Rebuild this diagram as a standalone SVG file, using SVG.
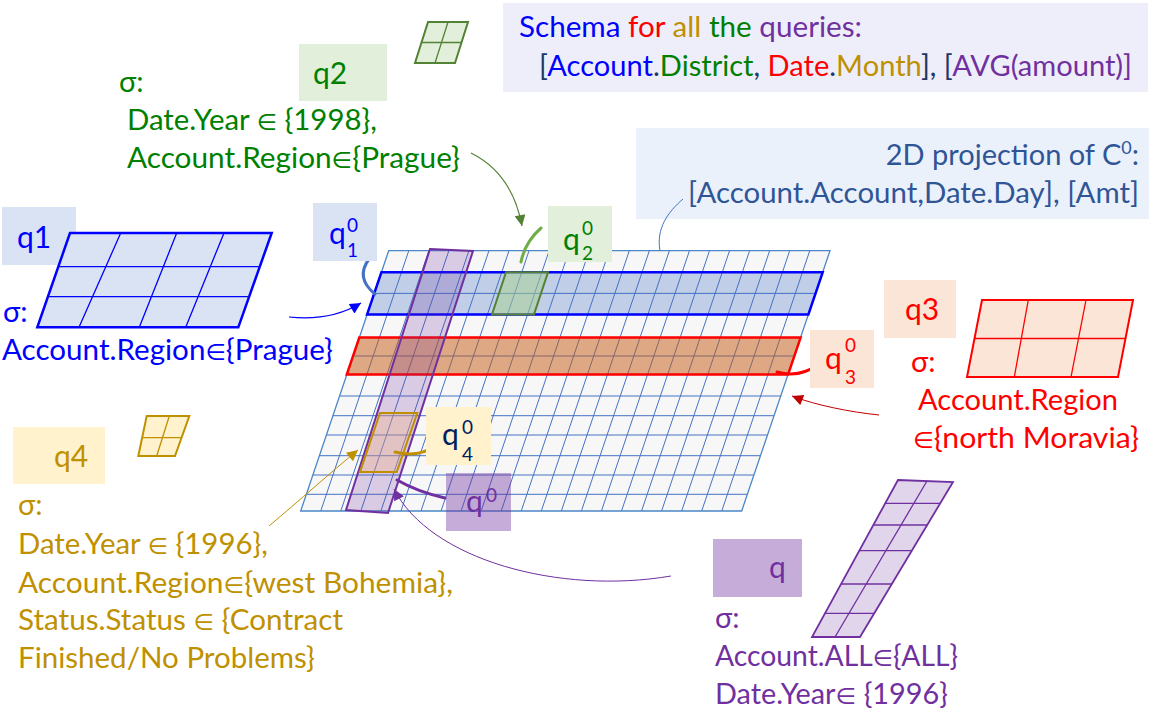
<svg xmlns="http://www.w3.org/2000/svg" width="1161" height="716" viewBox="0 0 1161 716">
<defs>
<style>
text{font-family:Lato,"Open Sans","DejaVu Sans",sans-serif;}
.t{font-size:29px;}
.lbl{font-size:30px;}
.sup{font-size:19px;}
.el{font-size:23px;}
.blue{fill:#0000FF}
.red{fill:#FF0000}
.gold{fill:#BF9000}
.green{fill:#008000}
.purple{fill:#7030A0}
.navy{fill:#203864}
.proj{fill:#2F5597}
.gl{stroke:#4472C4;stroke-width:1;fill:none}
.c{fill:none}
</style>
<marker id="ah-blue" viewBox="0 0 10 10" refX="10" refY="5" markerWidth="13" markerHeight="11" markerUnits="userSpaceOnUse" orient="auto"><path d="M0,0 L10,5 L0,10 z" fill="#0000FF"/></marker>
<marker id="ah-green" viewBox="0 0 10 10" refX="10" refY="5" markerWidth="13" markerHeight="11" markerUnits="userSpaceOnUse" orient="auto"><path d="M0,0 L10,5 L0,10 z" fill="#548235"/></marker>
<marker id="ah-red" viewBox="0 0 10 10" refX="10" refY="5" markerWidth="13" markerHeight="11" markerUnits="userSpaceOnUse" orient="auto"><path d="M0,0 L10,5 L0,10 z" fill="#C00000"/></marker>
<marker id="ah-gold" viewBox="0 0 10 10" refX="10" refY="5" markerWidth="13" markerHeight="11" markerUnits="userSpaceOnUse" orient="auto"><path d="M0,0 L10,5 L0,10 z" fill="#BF9000"/></marker>
<marker id="ah-purple" viewBox="0 0 10 10" refX="10" refY="5" markerWidth="13" markerHeight="11" markerUnits="userSpaceOnUse" orient="auto"><path d="M0,0 L10,5 L0,10 z" fill="#7030A0"/></marker>
</defs>

<!-- Schema box -->
<g id="schema">
<rect x="503" y="3" width="645" height="89" fill="#EEEEFA"/>
<text x="519" y="37" class="t" textLength="343" lengthAdjust="spacingAndGlyphs"><tspan class="blue">Schema</tspan><tspan class="red"> for</tspan><tspan class="gold"> all</tspan><tspan class="green"> the</tspan><tspan class="purple"> queries:</tspan></text>
<text x="539" y="76" class="t" textLength="593" lengthAdjust="spacingAndGlyphs"><tspan class="navy">[</tspan><tspan class="blue">Account</tspan><tspan class="navy">.</tspan><tspan class="green">District</tspan><tspan class="navy">, </tspan><tspan class="red">Date</tspan><tspan class="navy">.</tspan><tspan class="gold">Month</tspan><tspan class="navy">], [</tspan><tspan class="purple">AVG(amount)]</tspan></text>
</g>

<!-- projection box -->
<g id="projection">
<rect x="636" y="128" width="513" height="91" fill="#EBF1FA"/>
<text x="1139" y="165" class="t proj" text-anchor="end">2D projection of C<tspan font-size="18" dy="-11">0</tspan><tspan dy="11">:</tspan></text>
<text x="688" y="203" class="t proj" textLength="451" lengthAdjust="spacingAndGlyphs">[Account.Account,Date.Day], [Amt]</text>
</g>

<!-- main grid -->
<g id="grid">
<path d="M388.7,250.7 L830,250.7 L741.7,511 L300.7,511 Z" fill="#F7F7F7"/>
<path class="gl" d="M381.4,272.3H822.7 M374.2,293.4H815.5 M367.1,314.4H808.4 M359.3,337.6H800.6 M353,356H794.3 M346.8,374.4H788.1 M339.5,396H780.8 M332.8,415.7H774.1 M326.3,435H767.6 M319.3,455.7H760.6 M312.8,475H754.1 M306.2,494.3H747.5
M408.75,250.7L320.75,511 M428.8,250.7L340.8,511 M448.85,250.7L360.85,511 M468.9,250.7L380.9,511 M488.95,250.7L400.95,511 M509,250.7L421,511 M529.05,250.7L441.05,511 M549.1,250.7L461.1,511 M569.15,250.7L481.15,511 M589.2,250.7L501.2,511 M609.25,250.7L521.25,511 M629.3,250.7L541.3,511 M649.35,250.7L561.35,511 M669.4,250.7L581.4,511 M689.45,250.7L601.45,511 M709.5,250.7L621.5,511 M729.55,250.7L641.55,511 M749.6,250.7L661.6,511 M769.65,250.7L681.65,511 M789.7,250.7L701.7,511 M809.75,250.7L721.75,511"/>
<path d="M388.7,250.7 L830,250.7 L741.7,511 L300.7,511 Z" fill="none" stroke="#4A86C8" stroke-width="1.3"/>
</g>

<!-- q1^0 band -->
<g id="q1-band">
<path d="M381.4,272.3 L822.7,272.3 L808.4,314.4 L367.1,314.4 Z" fill="#4472C4" fill-opacity="0.3" stroke="#0000FF" stroke-width="2.5"/>
</g>
<!-- q3^0 band -->
<g id="q3-band">
<path d="M359.3,337.6 L800.6,337.6 L788.1,374.4 L346.8,374.4 Z" fill="#C55A11" fill-opacity="0.5" stroke="#FF0000" stroke-width="2.5"/>
</g>
<!-- q2^0 cell -->
<g id="q2-cell">
<path d="M506,272.3 L548,272.3 L534,314.4 L492,314.4 Z" fill="#A9D18E" fill-opacity="0.5" stroke="#548235" stroke-width="2"/>
</g>
<!-- q^0 band -->
<g id="q0-band">
<path d="M430,249 L473,251 L388,513 L346,510 Z" fill="#7030A0" fill-opacity="0.22" stroke="#7030A0" stroke-width="2"/>
</g>
<!-- q4^0 cell -->
<g id="q4-cell">
<path d="M380,413 L417.3,413 L396.7,472 L360,472 Z" fill="#F4B183" fill-opacity="0.35" stroke="#BF8F00" stroke-width="2"/>
</g>

<!-- connectors -->
<g id="connectors" class="c">
<path d="M289,317 C318,320 343,314 361,303" stroke="#0000FF" stroke-width="1.2" fill="none" marker-end="url(#ah-blue)"/>
<path d="M369,259 Q355,278 375,294" stroke="#4472C4" stroke-width="3" fill="none" stroke-linecap="round"/>
<path d="M471,153 C495,165 515,188 522,226" stroke="#548235" stroke-width="1.2" fill="none" marker-end="url(#ah-green)"/>
<path d="M541,228 Q525,242 521,262" stroke="#70AD47" stroke-width="3" fill="none" stroke-linecap="round"/>
<path d="M683,199 C668,212 656,228 660,251" stroke="#4472C4" stroke-width="1" fill="none"/>
<path d="M817,365 Q800,378 777,372" stroke="#FF0000" stroke-width="3" fill="none" stroke-linecap="round"/>
<path d="M879,415 C850,412 815,405 792,396" stroke="#C00000" stroke-width="1" fill="none" marker-end="url(#ah-red)"/>
<path d="M269,526 C300,500 330,473 358,450" stroke="#BF9000" stroke-width="1" fill="none" marker-end="url(#ah-gold)"/>
<path d="M435,446 Q418,458 395,452" stroke="#BF9000" stroke-width="3" fill="none" stroke-linecap="round"/>
<path d="M445,498 Q418,492 397,480" stroke="#7030A0" stroke-width="3" fill="none" stroke-linecap="round"/>
<path d="M671,576 C560,595 430,560 394,489" stroke="#7030A0" stroke-width="1" fill="none" marker-end="url(#ah-purple)"/>
</g>

<!-- q1 -->
<g id="q1">
<rect x="2" y="207" width="74" height="58" fill="#DAE3F3"/>
<text x="17" y="248" class="lbl blue">q1</text>
<path d="M70,233 L271.7,233 L238.3,327.3 L37.3,327.3 Z" fill="#DAE3F3" stroke="#0000FF" stroke-width="2.5"/>
<path d="M58.3,266.7H260 M47.9,296.7H249.6 M120.7,233L79,327.3 M176.7,233L139.3,327.3 M224,233L185.7,327.3" stroke="#0000FF" stroke-width="1.3" fill="none"/>
<text x="3" y="322" class="t blue">σ:</text>
<text x="2" y="360" class="t blue" textLength="331" lengthAdjust="spacingAndGlyphs">Account.Region<tspan class="el">∈</tspan>{Prague}</text>
</g>
<g id="q1-0">
<rect x="313" y="203" width="64" height="58" fill="#DAE3F3"/>
<text x="329" y="244" class="lbl blue">q</text>
<text x="347" y="232" class="sup blue">0</text>
<text x="347" y="257" class="sup blue">1</text>
</g>

<!-- q2 -->
<g id="q2">
<rect x="299" y="44" width="88" height="57" fill="#E2EFDA"/>
<text x="313" y="84" class="lbl green">q2</text>
<path d="M428,22 L468,22 L455,63 L415,63 Z" fill="#E2EFDA" stroke="#548235" stroke-width="2"/>
<path d="M421.6,42.5H461.5 M448,22L435,63" stroke="#548235" stroke-width="1.3" fill="none"/>
<text x="119" y="92" class="t green">σ:</text>
<text x="127" y="130" class="t green" textLength="250" lengthAdjust="spacingAndGlyphs">Date.Year <tspan class="el">∈</tspan> {1998},</text>
<text x="127" y="168" class="t green" textLength="333" lengthAdjust="spacingAndGlyphs">Account.Region<tspan class="el">∈</tspan>{Prague}</text>
</g>
<g id="q2-0">
<rect x="548" y="206" width="64" height="56" fill="#E2EFDA"/>
<text x="563" y="250" class="lbl green">q</text>
<text x="582" y="235" class="sup green">0</text>
<text x="582" y="260" class="sup green">2</text>
</g>

<!-- q3 -->
<g id="q3">
<rect x="884" y="280" width="72" height="58" fill="#FBE5D6"/>
<text x="905" y="320" class="lbl red">q3</text>
<path d="M982,300 L1133,300 L1118,377 L967,377 Z" fill="#FBE5D6" stroke="#FF0000" stroke-width="2"/>
<path d="M974.5,338.5H1125.5 M1028.3,300L1014.3,377 M1086,300L1071,377" stroke="#FF0000" stroke-width="1.3" fill="none"/>
<text x="911" y="372" class="t red">σ:</text>
<text x="918" y="410" class="t red" textLength="200" lengthAdjust="spacingAndGlyphs">Account.Region</text>
<text x="913" y="448" class="t red" textLength="226" lengthAdjust="spacingAndGlyphs"><tspan class="el">∈</tspan>{north Moravia}</text>
</g>
<g id="q3-0">
<rect x="810" y="330" width="64" height="58" fill="#FBE5D6"/>
<text x="825" y="369" class="lbl red">q</text>
<text x="845" y="352" class="sup red">0</text>
<text x="845" y="384" class="sup red">3</text>
</g>

<!-- q4 -->
<g id="q4">
<rect x="13" y="427" width="92" height="57" fill="#FFF2CC"/>
<text x="54" y="467" class="lbl gold">q4</text>
<path d="M146.7,416 L189.3,416 L175,456 L138.3,456 Z" fill="#FFF2CC" stroke="#BF9000" stroke-width="2"/>
<path d="M142.1,437.7H181.5 M169.3,416L156.7,456" stroke="#BF9000" stroke-width="1.3" fill="none"/>
<text x="18" y="515" class="t gold">σ:</text>
<text x="18" y="554" class="t gold" textLength="250" lengthAdjust="spacingAndGlyphs">Date.Year <tspan class="el">∈</tspan> {1996},</text>
<text x="18" y="593" class="t gold" textLength="435" lengthAdjust="spacingAndGlyphs">Account.Region<tspan class="el">∈</tspan>{west Bohemia},</text>
<text x="18" y="630" class="t gold" textLength="325" lengthAdjust="spacingAndGlyphs">Status.Status <tspan class="el">∈</tspan> {Contract</text>
<text x="18" y="668" class="t gold" textLength="297" lengthAdjust="spacingAndGlyphs">Finished/No Problems}</text>
</g>
<g id="q4-0">
<rect x="426" y="407" width="65" height="58" fill="#FFF2CC"/>
<text x="442" y="445" class="lbl" fill="#002060">q</text>
<text x="462" y="434" class="sup" fill="#002060">0</text>
<text x="462" y="461" class="sup" fill="#002060">4</text>
</g>

<!-- q -->
<g id="q">
<rect x="713" y="539" width="89" height="58" fill="#C6ACD9"/>
<text x="769" y="578" class="lbl purple">q</text>
<path d="M898,480 L953,482 L860,637 L812,637 Z" fill="#E1D5EC" stroke="#7030A0" stroke-width="1.8"/>
<path d="M885.2,503.3H940.2 M873.3,525H927.2 M859.3,550.7H911.8 M841,584H891.8 M825,613.3H874.2 M927,481L835,637" stroke="#7030A0" stroke-width="1.3" fill="none"/>
<text x="715" y="628" class="t purple">σ:</text>
<text x="715" y="666" class="purple" font-size="28" textLength="243" lengthAdjust="spacingAndGlyphs">Account.ALL<tspan class="el">∈</tspan>{ALL}</text>
<text x="715" y="704" class="purple" font-size="28" textLength="233" lengthAdjust="spacingAndGlyphs">Date.Year<tspan class="el">∈</tspan> {1996}</text>
</g>
<g id="q-0">
<rect x="446" y="473" width="65" height="58" fill="#7030A0" fill-opacity="0.4"/>
<text x="466" y="512" class="lbl purple">q</text>
<text x="486" y="502" class="sup purple">0</text>
</g>
</svg>
